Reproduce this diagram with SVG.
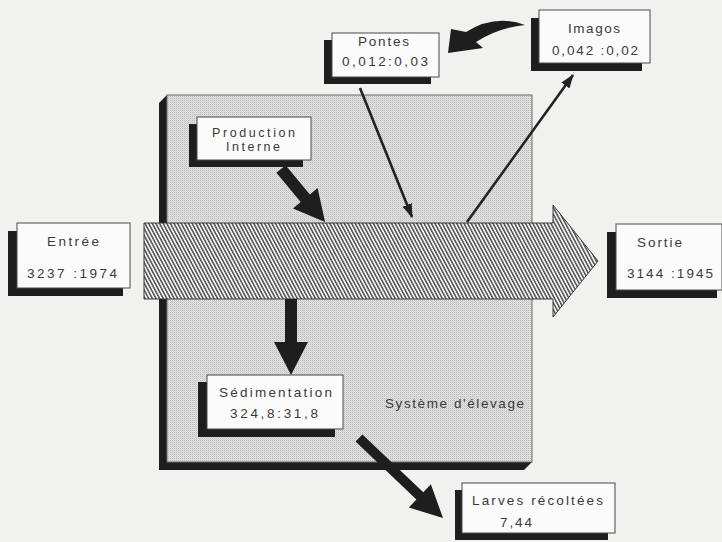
<svg xmlns="http://www.w3.org/2000/svg" width="722" height="542" viewBox="0 0 722 542">
<defs>
<pattern id="hatch" patternUnits="userSpaceOnUse" width="3.2" height="3.2" patternTransform="rotate(-28)">
<rect width="3.2" height="3.2" fill="#f4f4f4"/>
<rect x="0" y="0" width="1.5" height="3.2" fill="#505050"/>
</pattern>
<pattern id="dots" patternUnits="userSpaceOnUse" width="2" height="2">
<rect width="2" height="2" fill="#e2e2e2"/>
<rect x="0" y="0" width="1" height="1" fill="#bcbcbc"/>
<rect x="1" y="1" width="1" height="1" fill="#d2d2d2"/>
</pattern>
<marker id="head" markerUnits="userSpaceOnUse" markerWidth="14" markerHeight="10" refX="13" refY="5" orient="auto">
<path d="M0,0 L14,5 L0,10 Z" fill="#222"/>
</marker>
<style>
.bg{fill:#f1f1f0}
.shadow{fill:#1e1e1e}
.box{fill:#fbfbfb;stroke:#4a4a4a;stroke-width:1}
.lbl{font-family:"Liberation Sans",Arial,sans-serif;font-size:13.5px;fill:#3a3a3a}
.thin{stroke:#222;stroke-width:2.6;fill:none}
.fat{fill:#1e1e1e}
</style>
</defs>
<rect class="bg" x="0" y="0" width="722" height="542"/>

<g id="systeme">
<polygon class="shadow" points="167,95 159,103 159,470 524,470 532,462 532,95"/>
<rect x="167" y="95" width="365" height="367" fill="url(#dots)" stroke="#6a6a6a" stroke-width="1"/>
<text class="lbl" x="385" y="408" textLength="139" lengthAdjust="spacing">Système d'élevage</text>
</g>

<g id="flux">
<polygon points="144,223 553,223 553,205 598,261 553,317 553,299 144,299" fill="url(#hatch)" stroke="#3a3a3a" stroke-width="1"/>
</g>

<g id="connecteurs">
<line class="thin" x1="360" y1="88" x2="412" y2="217" marker-end="url(#head)"/>
<line class="thin" x1="467" y1="222" x2="573" y2="75" marker-end="url(#head)"/>
<path class="fat" d="M525,25 Q495,14 466,32 L451,29 L448,53 L483,48 L476,42 Q498,28 525,25 Z"/>
<polygon class="fat" points="0,-6 38,-6 38,-16 69,0 38,16 38,6 0,6" transform="translate(281,169) rotate(50.3)"/>
<polygon class="fat" points="285,299 297,299 297,342 308,342 291,375 274,342 285,342"/>
<polygon class="fat" points="0,-5 84,-5 84,-16 116,0 84,16 84,5 0,5" transform="translate(359,438) rotate(43.6)"/>
</g>

<g id="pontes">
<rect class="shadow" x="324" y="40" width="107" height="44"/>
<rect class="box" x="332" y="33" width="107" height="44"/>
<text class="lbl" x="358" y="46" textLength="51" lengthAdjust="spacing">Pontes</text>
<text class="lbl" x="342" y="66" textLength="86" lengthAdjust="spacing">0,012:0,03</text>
</g>

<g id="imagos">
<rect class="shadow" x="531" y="18" width="111" height="53"/>
<rect class="box" x="539" y="10" width="111" height="53"/>
<text class="lbl" x="568" y="33" textLength="52" lengthAdjust="spacing">Imagos</text>
<text class="lbl" x="552" y="55" textLength="86" lengthAdjust="spacing">0,042 :0,02</text>
</g>

<g id="production">
<rect class="shadow" x="189" y="124" width="114" height="43"/>
<rect class="box" x="197" y="117" width="114" height="43"/>
<text class="lbl" x="212" y="137" style="font-size:12.5px" textLength="83" lengthAdjust="spacing">Production</text>
<text class="lbl" x="226" y="151" style="font-size:12.5px" textLength="54" lengthAdjust="spacing">Interne</text>
</g>

<g id="entree">
<rect class="shadow" x="8" y="231" width="115" height="65"/>
<rect class="box" x="17" y="223" width="113" height="65"/>
<text class="lbl" x="47" y="246" textLength="52" lengthAdjust="spacing">Entrée</text>
<text class="lbl" x="27" y="278" textLength="90" lengthAdjust="spacing">3237 :1974</text>
</g>

<g id="sortie">
<rect class="shadow" x="607" y="232" width="110" height="66"/>
<rect class="box" x="616" y="224" width="106" height="66"/>
<text class="lbl" x="637" y="247" textLength="45" lengthAdjust="spacing">Sortie</text>
<text class="lbl" x="627" y="278" textLength="86" lengthAdjust="spacing">3144 :1945</text>
</g>

<g id="sedimentation">
<rect class="shadow" x="198" y="382" width="137" height="55"/>
<rect class="box" x="207" y="375" width="136" height="54"/>
<text class="lbl" x="219" y="397" textLength="113" lengthAdjust="spacing">Sédimentation</text>
<text class="lbl" x="230" y="418" textLength="88" lengthAdjust="spacing">324,8:31,8</text>
</g>

<g id="larves">
<rect class="shadow" x="455" y="490" width="153" height="50"/>
<rect class="box" x="462" y="483" width="153" height="50"/>
<text class="lbl" x="472" y="505" textLength="131" lengthAdjust="spacing">Larves récoltées</text>
<text class="lbl" x="500" y="527" textLength="32" lengthAdjust="spacing">7,44</text>
</g>
</svg>
